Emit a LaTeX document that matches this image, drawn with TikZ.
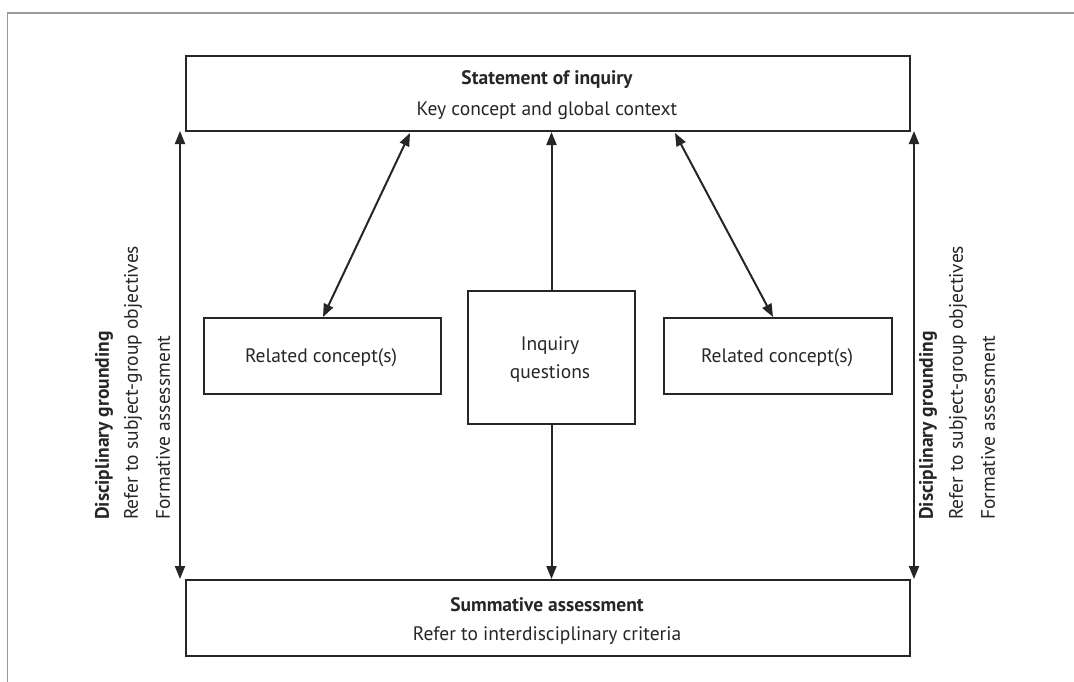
\documentclass[tikz,border=0pt]{standalone}
\usepackage{fontspec}
\setmainfont{PT Sans}
\usetikzlibrary{arrows.meta}
\definecolor{ink}{HTML}{262626}
\definecolor{framegray}{HTML}{9A9A9A}
\newcommand{\txtsize}{\fontsize{19.5}{23}\selectfont}
\begin{document}
\begin{tikzpicture}[x=1pt,y=-1pt,
  box/.style={draw=ink,line width=2pt,inner sep=0pt,anchor=north west},
  link/.style={draw=ink,line width=2pt,-{Triangle[length=13pt,width=10pt]}},
  duplex/.style={draw=ink,line width=2pt,{Triangle[length=13pt,width=10pt]}-{Triangle[length=13pt,width=10pt]}},
  lbl/.style={font=\txtsize,text=ink,inner sep=0pt},
  side/.style={font=\txtsize,text=ink,inner sep=0pt,rotate=90,anchor=west}]
\useasboundingbox (0,0) rectangle (1074,681);
% outer frame, running off the right and bottom edges
\draw[framegray,line width=1.5pt] (7.5,690) -- (7.5,13) -- (1080,13);

% boxes
\node[box,minimum width=724pt,minimum height=75pt] (soi) at (185,55) {};
\node[box,minimum width=724pt,minimum height=76pt] (sum) at (185,579) {};
\node[box,minimum width=237pt,minimum height=76pt] (rcl) at (203,317) {};
\node[box,minimum width=167pt,minimum height=133pt] (iq) at (467,290) {};
\node[box,minimum width=228pt,minimum height=76pt] (rcr) at (663,317) {};

% box texts
\node[lbl,font=\txtsize\bfseries] (soiA) at (547,80) {Statement of inquiry};
\node[lbl] (soiB) at (547,111) {Key concept and global context};
\node[lbl,font=\txtsize\bfseries] (sumA) at (547,605) {Summative assessment};
\node[lbl] (sumB) at (547,636) {Refer to interdisciplinary criteria};
\node[lbl] (rclT) at (321,358) {Related concept(s)};
\node[lbl] (rcrT) at (777,358) {Related concept(s)};
\node[lbl] (iqA) at (550,346) {Inquiry};
\node[lbl] (iqB) at (550,374) {questions};

% side labels, all starting at the same height
\node[side,font=\txtsize\bfseries] (lg1) at (104,520) {Disciplinary grounding};
\node[side] (lg2) at (133,520) {Refer to subject-group objectives};
\node[side] (lg3) at (163,520) {Formative assessment};
\node[side,font=\txtsize\bfseries] (rg1) at (928,520) {Disciplinary grounding};
\node[side] (rg2) at (958,520) {Refer to subject-group objectives};
\node[side] (rg3) at (988,520) {Formative assessment};

% connectors
\coordinate (lt) at (180,131);
\coordinate (lb) at (180,579);
\coordinate (rt) at (914,131);
\coordinate (rb) at (914,579);
\draw[duplex] (lt) -- (lb);
\draw[duplex] (rt) -- (rb);
\draw[duplex] (soi.south west -| 410,0) ++(0,1) -- (rcl.north west -| 323,0);
\draw[duplex] (soi.south west -| 675,0) ++(0,1) -- (rcr.north west -| 773,0);
\draw[link] (iq.north) -- (iq.north |- soi.south);
\draw[link] (iq.south) -- (iq.south |- sum.north);
\end{tikzpicture}
\end{document}
